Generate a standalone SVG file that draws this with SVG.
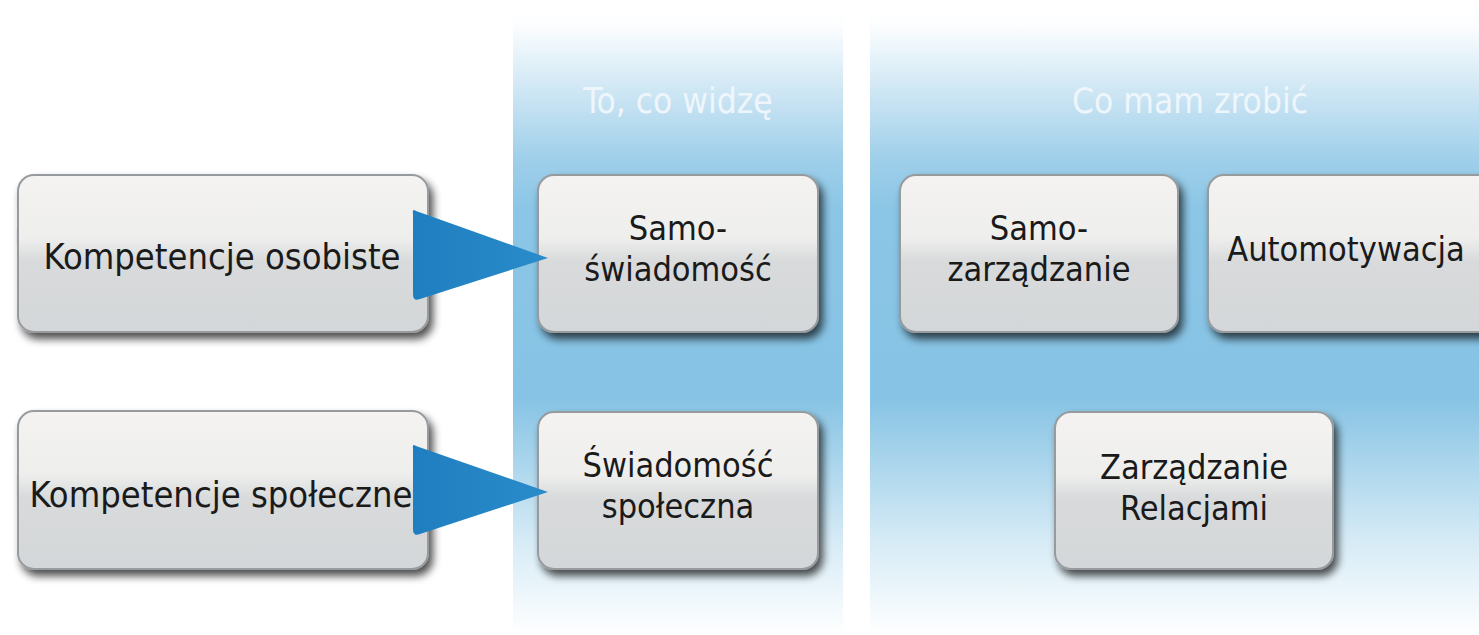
<svg xmlns="http://www.w3.org/2000/svg" width="1479" height="635" viewBox="0 0 1479 635">
<defs>
<linearGradient id="band" x1="0" y1="0" x2="0" y2="1">
<stop offset="0" stop-color="#ffffff"/>
<stop offset="0.03" stop-color="#fbfdfe"/>
<stop offset="0.24" stop-color="#9fcfea"/>
<stop offset="0.32" stop-color="#8cc6e6"/>
<stop offset="0.62" stop-color="#86c3e4"/>
<stop offset="0.85" stop-color="#d6ebf6"/>
<stop offset="1" stop-color="#ffffff"/>
</linearGradient>
<linearGradient id="box" x1="0" y1="0" x2="0" y2="1">
<stop offset="0" stop-color="#f4f3f2"/>
<stop offset="0.4" stop-color="#eeeeed"/>
<stop offset="0.55" stop-color="#d8dadb"/>
<stop offset="1" stop-color="#d4d7d9"/>
</linearGradient>
<linearGradient id="arr" x1="0" y1="0" x2="1" y2="0">
<stop offset="0" stop-color="#1f7ebf"/>
<stop offset="1" stop-color="#2a8ccb"/>
</linearGradient>
<filter id="sh" x="-10%" y="-15%" width="125%" height="140%">
<feGaussianBlur in="SourceAlpha" stdDeviation="4.5"/>
<feOffset dx="4" dy="6" result="b"/>
<feComponentTransfer><feFuncA type="linear" slope="0.7"/></feComponentTransfer>
<feMerge><feMergeNode/><feMergeNode in="SourceGraphic"/></feMerge>
</filter>
</defs>
<style>
.node rect{fill:url(#box);stroke:#979b9e;stroke-width:2;filter:url(#sh)}
.t{font-family:"DejaVu Sans Condensed","DejaVu Sans",sans-serif;font-stretch:condensed;font-size:34px;fill:#1a1a1a;text-anchor:middle}
.big{font-size:36px}
.h{font-family:"DejaVu Sans Condensed","DejaVu Sans",sans-serif;font-stretch:condensed;font-size:35px;fill:#eef6fb;text-anchor:middle}
.arrow{fill:url(#arr)}
</style>
<rect width="1479" height="635" fill="#ffffff"/>
<g id="band1"><rect x="513" y="8" width="330" height="627" fill="url(#band)"/><text class="h" x="678" y="113">To, co widzę</text></g>
<g id="band2"><rect x="870" y="8" width="609" height="627" fill="url(#band)"/><text class="h" x="1190" y="113">Co mam zrobić</text></g>
<g id="n1" class="node"><rect x="18" y="175" width="410" height="157" rx="16"/><text class="t big" x="222" y="269">Kompetencje osobiste</text></g>
<g id="n2" class="node"><rect x="18" y="411" width="410" height="158" rx="16"/><text class="t big" x="221" y="507">Kompetencje społeczne</text></g>
<g id="n3" class="node"><rect x="538" y="175" width="280" height="157" rx="16"/><text class="t" x="678" y="240">Samo-</text><text class="t" x="678" y="281">świadomość</text></g>
<g id="n4" class="node"><rect x="538" y="412" width="280" height="157" rx="16"/><text class="t" x="678" y="477">Świadomość</text><text class="t" x="678" y="518">społeczna</text></g>
<g id="n5" class="node"><rect x="900" y="175" width="278" height="157" rx="16"/><text class="t" x="1039" y="240">Samo-</text><text class="t" x="1039" y="281">zarządzanie</text></g>
<g id="n6" class="node"><rect x="1208" y="175" width="290" height="157" rx="16"/><text class="t" x="1346" y="261">Automotywacja</text></g>
<g id="n7" class="node"><rect x="1055" y="412" width="278" height="157" rx="16"/><text class="t" x="1194" y="479">Zarządzanie</text><text class="t" x="1194" y="520">Relacjami</text></g>
<g id="connectors">
<path class="arrow" d="M416,211 Q412,208 413,214 L413,294 Q413,302 420,299 L548,258 Z"/>
<path class="arrow" d="M416,446 Q412,443 413,449 L413,529 Q413,537 420,534 L548,492 Z"/>
</g>
</svg>
